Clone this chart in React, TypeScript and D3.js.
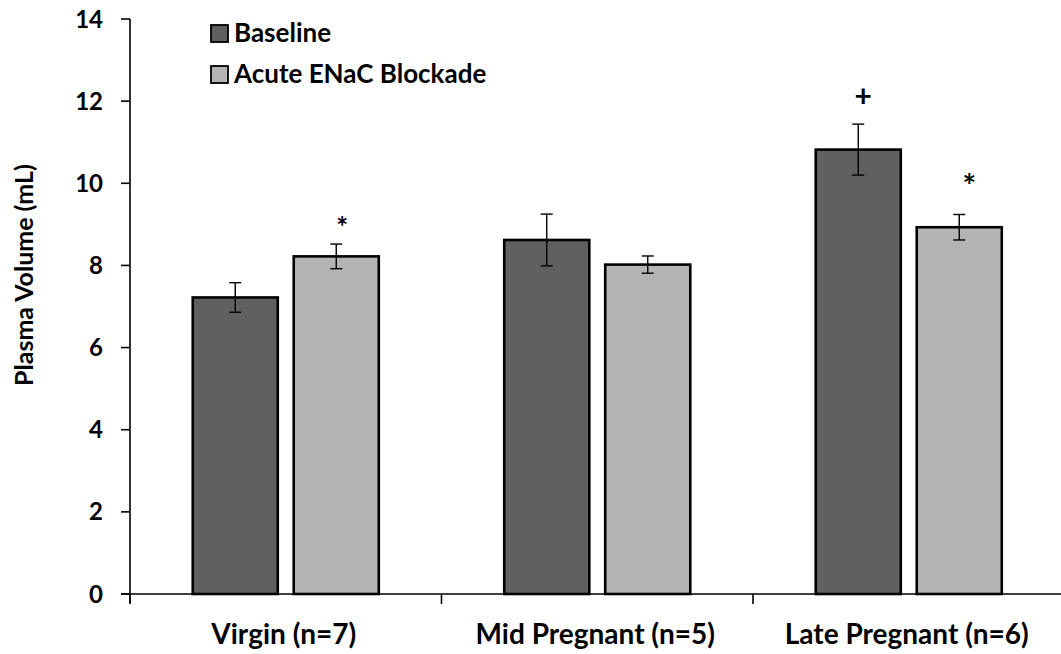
import React from "react";
import * as d3 from "d3";

const categories = ["Virgin (n=7)", "Mid Pregnant (n=5)", "Late Pregnant (n=6)"];
const seriesNames = ["Baseline", "Acute ENaC Blockade"];
const baseline = [7.22, 8.62, 10.82];
const baselineErr = [0.36, 0.63, 0.62];
const blockade = [8.22, 8.02, 8.93];
const blockadeErr = [0.3, 0.21, 0.31];
const yTicks = [0, 2, 4, 6, 8, 10, 12, 14];
// significance markers: category index, series index, symbol, height (mL) of the symbol
const markerCategory = [0, 2, 2];
const markerSeries = [1, 0, 1];
const markerSymbol = ["*", "+", "*"];
const markerLevel = [9.11, 12.1, 10.13];

const colors = ["#606060", "#b4b4b4"];
const FONT = "Lato, 'Open Sans', sans-serif";

export default function App() {
  const W = 1061;
  const H = 654;
  const x0 = 130;
  const x1 = 1064.5;
  const yTop = 19;
  const yBot = 594;

  const y = d3.scaleLinear().domain([0, 14]).range([yBot, yTop]);
  const xBand = d3.scaleBand<string>().domain(categories).range([x0, x1]);
  const xSub = d3
    .scaleBand<string>()
    .domain(seriesNames)
    .range([0, xBand.bandwidth()])
    .paddingInner(0.158)
    .paddingOuter(0.621);

  const series = [
    { name: seriesNames[0], vals: baseline, errs: baselineErr },
    { name: seriesNames[1], vals: blockade, errs: blockadeErr },
  ];

  const boundaries = [...categories.map((c) => xBand(c)!)];
  boundaries.push(x1);
  const markerDx = [6, 5, 10];
  const markerSize = [28, 30, 32];

  return (
    <svg width={W} height={H} style={{ position: "absolute", left: 0, top: 0, background: "#fff" }}>
      {/* bars with error bars */}
      {categories.map((c, ci) =>
        series.map((s, si) => {
          const bx = xBand(c)! + xSub(s.name)!;
          const bw = xSub.bandwidth();
          const v = s.vals[ci];
          const e = s.errs[ci];
          const cx = bx + bw / 2;
          return (
            <g key={c + si}>
              <rect
                x={bx}
                y={y(v)}
                width={bw}
                height={y(0) - y(v)}
                fill={colors[si]}
                stroke="#000"
                strokeWidth={2.6}
              />
              <line x1={cx} x2={cx} y1={y(v + e)} y2={y(v - e)} stroke="#000" strokeWidth={1.4} />
              <line x1={cx - 6} x2={cx + 6} y1={y(v + e)} y2={y(v + e)} stroke="#000" strokeWidth={1.4} />
              <line x1={cx - 6} x2={cx + 6} y1={y(v - e)} y2={y(v - e)} stroke="#000" strokeWidth={1.4} />
            </g>
          );
        })
      )}

      {/* significance markers */}
      {markerSymbol.map((sym, i) => {
        const s = series[markerSeries[i]];
        const cx = xBand(categories[markerCategory[i]])! + xSub(s.name)! + xSub.bandwidth() / 2 + markerDx[i];
        return (
          <text
            key={i}
            x={cx}
            y={y(markerLevel[i])}
            dy={sym === "*" ? "0.62em" : "0.33em"}
            textAnchor="middle"
            fontFamily={FONT}
            fontWeight="bold"
            fontSize={markerSize[i]}
          >
            {sym}
          </text>
        );
      })}

      {/* y axis */}
      <line x1={x0} x2={x0} y1={yTop} y2={yBot + 9} stroke="#000" strokeWidth={1.6} />
      {yTicks.map((t) => (
        <g key={t}>
          <line x1={x0 - 9} x2={x0} y1={y(t)} y2={y(t)} stroke="#000" strokeWidth={1.6} />
          <text
            x={x0 - 27}
            y={y(t)}
            dy="0.36em"
            textAnchor="end"
            fontFamily={FONT}
            fontWeight="bold"
            fontSize={24}
          >
            {t}
          </text>
        </g>
      ))}

      {/* x axis */}
      <line x1={x0 - 9} x2={W} y1={yBot} y2={yBot} stroke="#000" strokeWidth={1.6} />
      {boundaries.map((b, i) => (
        <line key={i} x1={b} x2={b} y1={yBot} y2={yBot + 10} stroke="#000" strokeWidth={1.6} />
      ))}
      {categories.map((c) => (
        <text
          key={c}
          x={xBand(c)! + xBand.bandwidth() / 2 - 2}
          y={644}
          textAnchor="middle"
          fontFamily={FONT}
          fontWeight="bold"
          fontSize={28}
        >
          {c}
        </text>
      ))}

      {/* y axis title */}
      <text
        transform={`translate(33, 275) rotate(-90)`}
        textAnchor="middle"
        fontFamily={FONT}
        fontWeight="bold"
        fontSize={25}
      >
        Plasma Volume (mL)
      </text>

      {/* legend */}
      {seriesNames.map((n, i) => (
        <g key={n} transform={`translate(211, ${25 + i * 41})`}>
          <rect x={0} y={0} width={17} height={17} fill={colors[i]} stroke="#000" strokeWidth={1.8} />
          <text x={23} y={17} fontFamily={FONT} fontWeight="bold" fontSize={26}>
            {n}
          </text>
        </g>
      ))}
    </svg>
  );
}
